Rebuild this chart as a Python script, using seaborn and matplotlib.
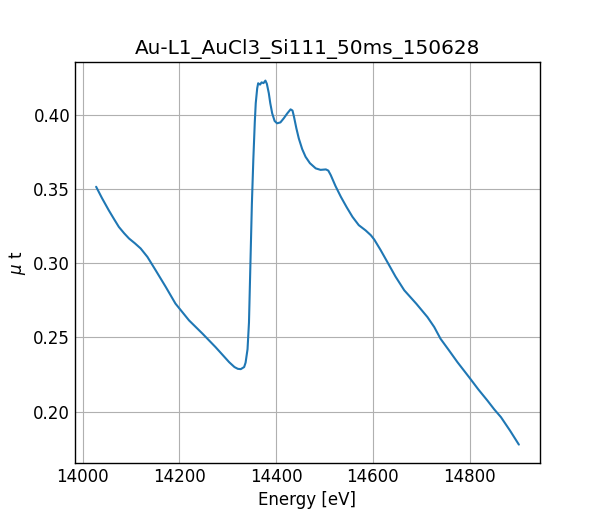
import matplotlib
matplotlib.use("Agg")
import matplotlib.pyplot as plt
import seaborn as sns
import pandas as pd

energy = [14028, 14040, 14054, 14065, 14075, 14086, 14096, 14108, 14120, 14134,
          14151, 14172, 14192, 14220, 14248, 14275, 14290, 14303, 14314, 14321,
          14327, 14334, 14337, 14341, 14344, 14347, 14350, 14353, 14356, 14358,
          14361, 14363, 14367, 14370, 14374, 14378, 14381, 14385, 14388, 14392,
          14397, 14402, 14409, 14416, 14423, 14430, 14434, 14437, 14442, 14447,
          14454, 14461, 14470, 14482, 14492, 14503, 14508, 14513, 14523, 14534,
          14546, 14558, 14571, 14585, 14596, 14603, 14616, 14630, 14647, 14665,
          14690, 14713, 14727, 14740, 14757, 14775, 14799, 14818, 14837, 14851,
          14865, 14884, 14902]
mu_t = [0.3516, 0.3440, 0.3358, 0.3298, 0.3245, 0.3202, 0.3167, 0.3135, 0.3100, 0.3043,
        0.2953, 0.2840, 0.2728, 0.2615, 0.2525, 0.2434, 0.2380, 0.2333, 0.2300, 0.2288,
        0.2286, 0.2300, 0.2330, 0.2420, 0.2600, 0.3000, 0.3400, 0.3700, 0.3950, 0.4080,
        0.4180, 0.4214, 0.4205, 0.4220, 0.4215, 0.4232, 0.4210, 0.4147, 0.4080, 0.4011,
        0.3960, 0.3944, 0.3950, 0.3978, 0.4010, 0.4038, 0.4030, 0.3989, 0.3910, 0.3842,
        0.3770, 0.3718, 0.3675, 0.3640, 0.3630, 0.3633, 0.3625, 0.3595, 0.3520, 0.3448,
        0.3378, 0.3313, 0.3257, 0.3222, 0.3189, 0.3160, 0.3090, 0.3009, 0.2910, 0.2818,
        0.2727, 0.2637, 0.2570, 0.2491, 0.2415, 0.2333, 0.2232, 0.2150, 0.2074, 0.2015,
        0.1962, 0.1870, 0.1777]

title = "Au-L1_AuCl3_Si111_50ms_150628"

sns.set_style("white")
plt.rcParams["font.family"] = ["DejaVu Sans"]
plt.rcParams["text.color"] = "black"
plt.rcParams["axes.labelcolor"] = "black"
plt.rcParams["xtick.color"] = "black"
plt.rcParams["ytick.color"] = "black"

df = pd.DataFrame({"energy": energy, "mu": mu_t})
fig, ax = plt.subplots(figsize=(6, 5.2), dpi=100)
sns.lineplot(data=df, x="energy", y="mu", ax=ax, color="#1f77b4", linewidth=1.5)
ax.grid(True, color="#b0b0b0", linewidth=0.8)
for s in ax.spines.values():
    s.set_color("black")
    s.set_linewidth(1.0)
ax.tick_params(direction="in", labelsize=12, length=3.5, width=0.8,
               colors="black", labelcolor="black")
ax.set_xticks([14000, 14200, 14400, 14600, 14800])
ax.set_xlabel("Energy [eV]", fontsize=12, color="black")
ax.set_ylabel(r"$\mu$ t", fontsize=12, color="black")
ax.set_title(title, fontsize=14.4, color="black")
fig.savefig("out.png", dpi=100)
